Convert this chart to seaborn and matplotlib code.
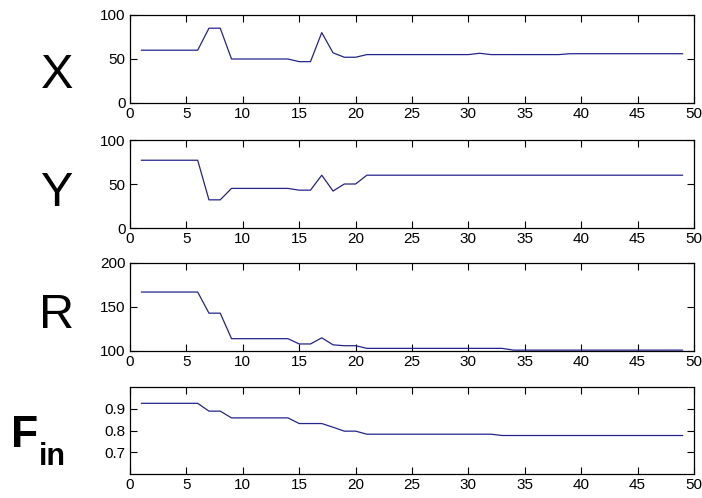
import matplotlib
matplotlib.use("Agg")
import matplotlib.pyplot as plt
import seaborn as sns
import pandas as pd

# ---- data ----
iters = list(range(1, 50))
x_vals = [60, 60, 60, 60, 60, 60, 85, 85, 50, 50, 50, 50, 50, 50, 47, 47, 80, 57, 52, 52,
          55, 55, 55, 55, 55, 55, 55, 55, 55, 55, 56.5, 55, 55, 55, 55, 55, 55, 55,
          56, 56, 56, 56, 56, 56, 56, 56, 56, 56, 56]
y_vals = [77, 77, 77, 77, 77, 77, 32, 32, 45, 45, 45, 45, 45, 45, 43, 43, 60, 42, 50, 50,
          60, 60, 60, 60, 60, 60, 60, 60, 60, 60, 60, 60, 60, 60, 60, 60, 60, 60, 60,
          60, 60, 60, 60, 60, 60, 60, 60, 60, 60]
r_vals = [167, 167, 167, 167, 167, 167, 143, 143, 114, 114, 114, 114, 114, 114, 108, 108,
          115, 107, 106, 106, 103, 103, 103, 103, 103, 103, 103, 103, 103, 103, 103, 103, 103,
          101, 101, 101, 101, 101, 101, 101, 101, 101, 101, 101, 101, 101, 101, 101, 101]
f_vals = [0.925, 0.925, 0.925, 0.925, 0.925, 0.925, 0.889, 0.889, 0.858, 0.858, 0.858, 0.858,
          0.858, 0.858, 0.832, 0.832, 0.832, 0.815, 0.797, 0.797, 0.783, 0.783, 0.783, 0.783,
          0.783, 0.783, 0.783, 0.783, 0.783, 0.783, 0.783, 0.783, 0.777, 0.777, 0.777, 0.777,
          0.777, 0.777, 0.777, 0.777, 0.777, 0.777, 0.777, 0.777, 0.777, 0.777, 0.777, 0.777, 0.777]

x_ticks = [0, 5, 10, 15, 20, 25, 30, 35, 40, 45, 50]
y_ticks_list = [[0, 50, 100], [0, 50, 100], [100, 150, 200], [0.7, 0.8, 0.9]]
y_ticklabels_list = [["0", "50", "100"], ["0", "50", "100"], ["100", "150", "200"], ["0.7", "0.8", "0.9"]]
y_lims = [(0, 100), (0, 100), (100, 200), (0.6, 1.0)]
series = [x_vals, y_vals, r_vals, f_vals]

sns.set_style("ticks")
plt.rcParams['font.family'] = ['Liberation Sans Narrow', 'Liberation Sans', 'DejaVu Sans']
plt.rcParams['text.color'] = 'black'

W, H = 702, 498
fig = plt.figure(figsize=(W / 100, H / 100), dpi=100)
fig.patch.set_facecolor("white")

boxes = [(15, 103), (140, 228), (263, 351), (387, 474)]
left, right = 130, 694
line_color = "#24248c"

for i, (top, bot) in enumerate(boxes):
    ax = fig.add_axes([left / W, 1 - bot / H, (right - left) / W, (bot - top) / H])
    df = pd.DataFrame({"iter": iters, "val": series[i]})
    sns.lineplot(data=df, x="iter", y="val", ax=ax, color=line_color, linewidth=0.9)
    ax.set_xlim(0, 50)
    ax.set_ylim(*y_lims[i])
    ax.set_xticks(x_ticks)
    ax.set_xticklabels([str(t) for t in x_ticks])
    ax.set_yticks(y_ticks_list[i])
    ax.set_yticklabels(y_ticklabels_list[i])
    ax.set_xlabel("")
    ax.set_ylabel("")
    ax.tick_params(direction="in", top=True, right=True, length=5, width=0.8,
                   labelsize=11, colors="black", pad=3)
    for s in ax.spines.values():
        s.set_visible(True)
        s.set_linewidth(0.9)
        s.set_color("black")
    ax.set_facecolor("white")

big = ['Liberation Sans', 'DejaVu Sans']
fig.text(57 / W, 1 - 88 / H, "X", fontsize=35, ha="center", va="baseline", family=big, color="black")
fig.text(57 / W, 1 - 206 / H, "Y", fontsize=35, ha="center", va="baseline", family=big, color="black")
fig.text(57 / W, 1 - 328 / H, "R", fontsize=35, ha="center", va="baseline", family=big, color="black")
fig.text(11 / W, 1 - 447 / H, "F", fontsize=32, fontweight="bold", ha="left", va="baseline", family=big, color="black")
fig.text(39 / W, 1 - 465 / H, "in", fontsize=22, fontweight="bold", ha="left", va="baseline", family=big, color="black")

fig.savefig("out.png", dpi=100, facecolor="white")
